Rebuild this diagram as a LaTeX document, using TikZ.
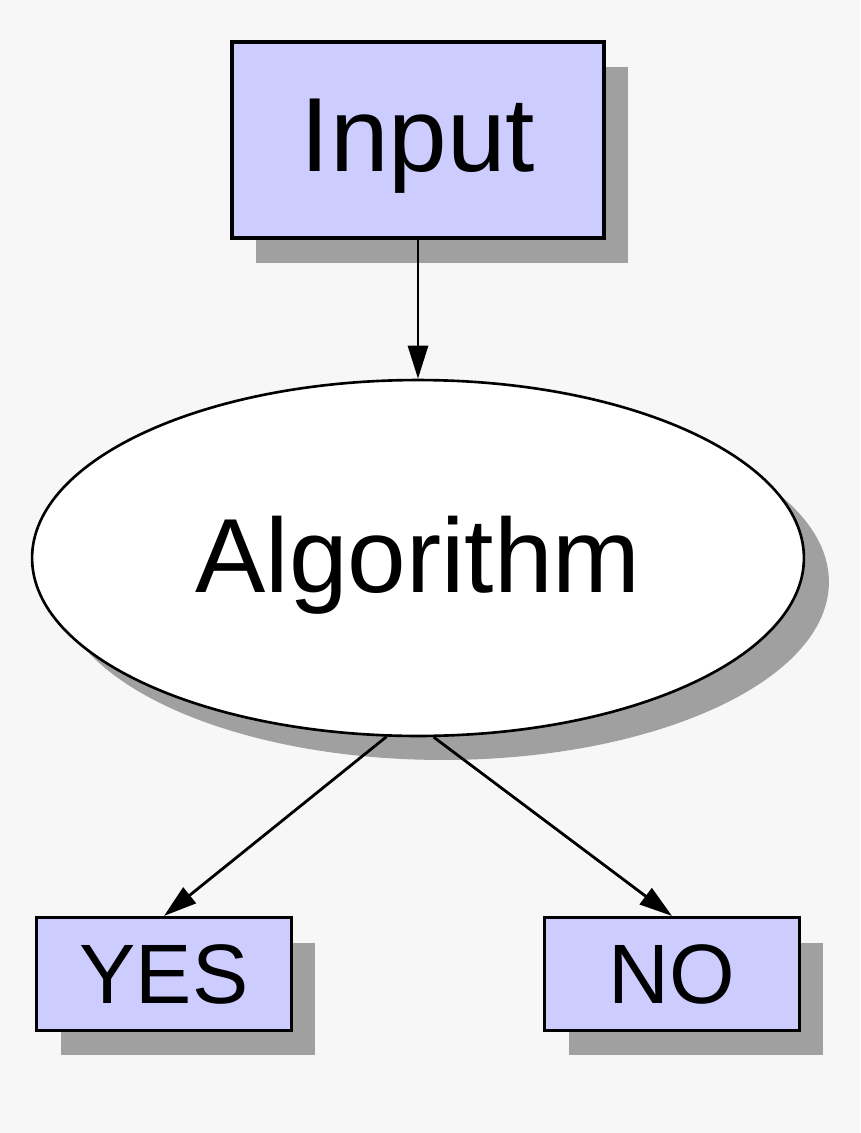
\documentclass[tikz,border=0pt]{standalone}
\usepackage{fontspec}
\setmainfont{Liberation Sans}
\usetikzlibrary{shapes.geometric,shadows,arrows.meta}

\definecolor{bgcol}{HTML}{F7F7F7}
\definecolor{boxfill}{HTML}{CCCCFF}
\definecolor{shadowgray}{HTML}{A0A0A0}

\tikzset{
    iobox/.style={draw, line width=1.8pt, fill=boxfill, inner sep=0pt,
        drop shadow={shadow xshift=0.48cm, shadow yshift=-0.5cm, fill=shadowgray, opacity=1}},
    algnode/.style={ellipse, draw, line width=1.5pt, fill=white, inner sep=0pt,
        minimum width=15.44cm, minimum height=7.12cm,
        drop shadow={shadow xshift=0.5cm, shadow yshift=-0.48cm, fill=shadowgray, opacity=1}},
    flow/.style={line width=1.6pt, -{Triangle[length=0.66cm, width=0.4cm]}}
}

\begin{document}
\begin{tikzpicture}[x=0.02cm, y=-0.02cm]
        % Background
        \fill[bgcol] (0,0) rectangle (860,1133);
        \useasboundingbox (0,0) rectangle (860,1133);

        % Nodes
        \node[iobox, minimum width=7.44cm, minimum height=3.92cm, text depth=5pt, font=\fontsize{60}{70}\selectfont] (input) at (418,140) {Input};
        \node[algnode, text depth=4pt, font=\fontsize{60}{70}\selectfont] (alg) at (418,558) {Algorithm};
        \node[iobox, minimum width=5.1cm, minimum height=2.26cm, font=\fontsize{48}{58}\selectfont] (yes) at (164,974) {YES};
        \node[iobox, minimum width=5.1cm, minimum height=2.26cm, font=\fontsize{48}{58}\selectfont] (no) at (672,974) {NO};

        % Arrows
        \draw[flow] (input.south) -- (alg.north);
        \draw[flow] (alg.260) -- (yes.north);
        \draw[flow] (alg.275) -- (no.north);
    \end{tikzpicture}
\end{document}
